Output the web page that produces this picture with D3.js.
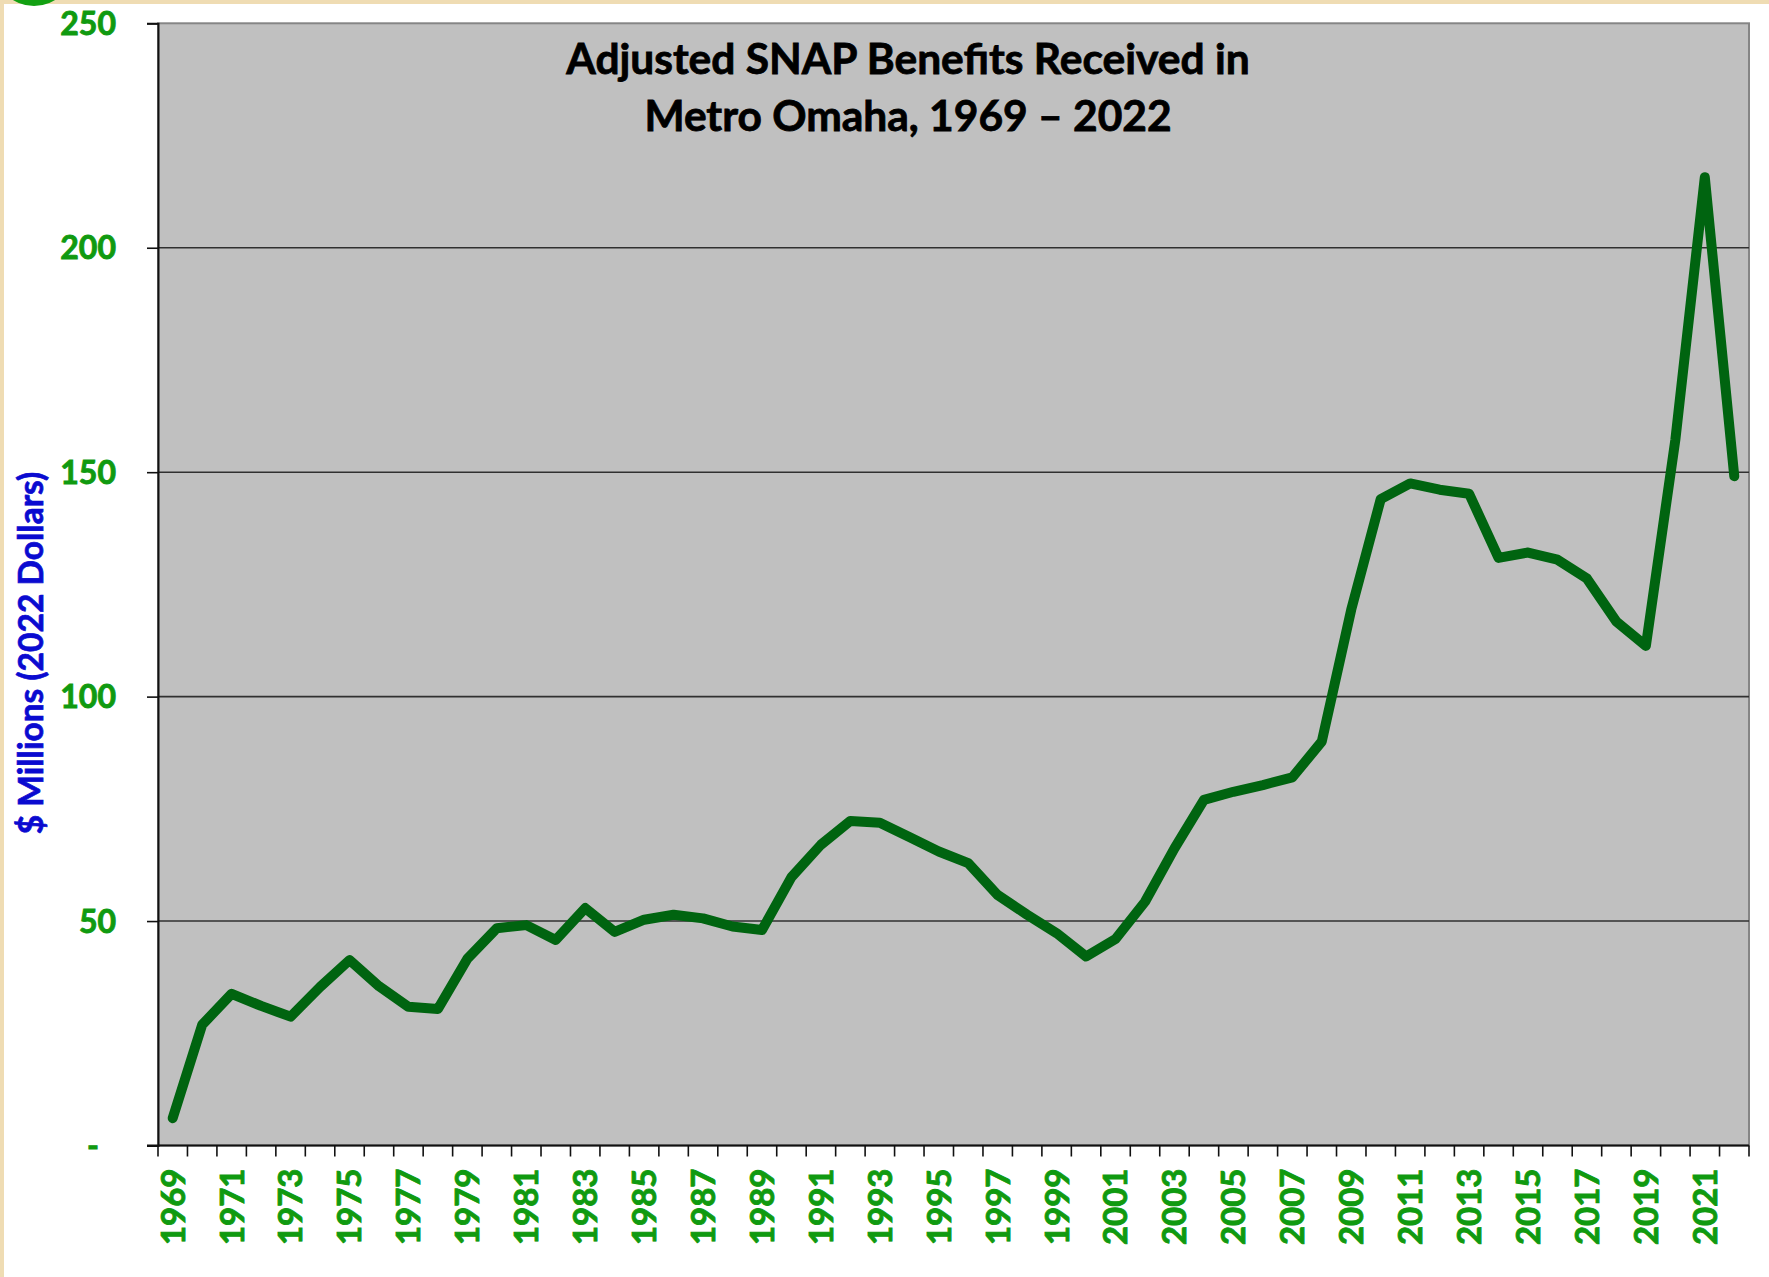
<!DOCTYPE html>
<html>
<head>
<meta charset="utf-8">
<script src="https://cdn.jsdelivr.net/npm/d3@7"></script>
<style>
  html, body { margin: 0; padding: 0; background: #ffffff; }
  svg { display: block; }
</style>
</head>
<body>
<script>
// ---- Data ----
const years = d3.range(1969, 2023);
const values = [
  6.1, 26.9, 33.8, 31.1, 28.7, 35.3, 41.3, 35.5, 30.9, 30.4,
  41.6, 48.4, 49.1, 45.8, 52.9, 47.6, 50.3, 51.4, 50.6, 48.8,
  48.0, 59.8, 67.0, 72.3, 71.9, 68.7, 65.5, 62.9, 55.8, 51.4,
  47.3, 42.1, 46.0, 54.3, 66.2, 77.0, 78.8, 80.3, 82.0, 90.0,
  119.4, 144.0, 147.5, 146.1, 145.2, 130.9, 132.1, 130.5, 126.3, 116.7,
  111.3, 157.2, 215.7, 149.1
];
const yTicks = [0, 50, 100, 150, 200, 250];
const yTickLabels = ["-", "50", "100", "150", "200", "250"];
const titleLines = ["Adjusted SNAP Benefits Received in", "Metro Omaha, 1969 \u2013 2022"];
const yAxisTitle = "$ Millions (2022 Dollars)";

// ---- Layout ----
const W = 1769, H = 1277;
const plot = { left: 158, right: 1749, top: 23.3, bottom: 1145.5 };
const green = "#109a10";
const font = "Lato, 'Open Sans', sans-serif";

const svg = d3.select("body").append("svg").attr("width", W).attr("height", H);

// page decoration
svg.append("rect").attr("width", W).attr("height", H).attr("fill", "#ffffff");
svg.append("rect").attr("x", 0).attr("y", 0).attr("width", W).attr("height", 4).attr("fill", "#efdcb3");
svg.append("rect").attr("x", 0).attr("y", 0).attr("width", 4).attr("height", H).attr("fill", "#efdcb3");
svg.append("circle").attr("cx", 34).attr("cy", -34).attr("r", 40).attr("fill", "#12a012");

const x = d3.scaleBand().domain(years).range([plot.left, plot.right]).padding(0);
const y = d3.scaleLinear().domain([0, 250]).range([plot.bottom, plot.top]);

// plot area
svg.append("rect")
  .attr("x", plot.left).attr("y", plot.top)
  .attr("width", plot.right - plot.left).attr("height", plot.bottom - plot.top)
  .attr("fill", "#c0c0c0").attr("stroke", "#858585").attr("stroke-width", 2);

// gridlines
svg.append("g").selectAll("line").data(yTicks.filter(t => t > 0 && t < 250)).join("line")
  .attr("x1", plot.left).attr("x2", plot.right)
  .attr("y1", d => y(d)).attr("y2", d => y(d))
  .attr("stroke", "#303030").attr("stroke-width", 1.6);

// Y axis
const yAxis = d3.axisLeft(y).tickValues(yTicks).tickSize(11).tickPadding(0)
  .tickFormat((d, i) => yTickLabels[i]);
const gy = svg.append("g").attr("transform", `translate(${plot.left},0)`).call(yAxis);
gy.select(".domain").attr("stroke", "#111").attr("stroke-width", 2);
gy.selectAll(".tick line").attr("stroke", "#111").attr("stroke-width", 1.6);
gy.selectAll(".tick text")
  .attr("x", (d) => d === 0 ? -59 : -42)
  .attr("dy", "0.35em")
  .attr("fill", green).attr("stroke", green).attr("stroke-width", 0.9)
  .attr("font-family", font).attr("font-weight", 700).attr("font-size", 32);

// X axis: ticks at band boundaries
const boundaries = years.map(yr => x(yr)).concat([plot.right]);
svg.append("line").attr("x1", plot.left - 11).attr("x2", plot.right)
  .attr("y1", plot.bottom).attr("y2", plot.bottom)
  .attr("stroke", "#111").attr("stroke-width", 2);
svg.append("g").selectAll("line").data(boundaries).join("line")
  .attr("x1", d => d).attr("x2", d => d)
  .attr("y1", plot.bottom).attr("y2", plot.bottom + 11)
  .attr("stroke", "#111").attr("stroke-width", 1.6);

svg.append("g").selectAll("text").data(years.filter((yr, i) => i % 2 === 0)).join("text")
  .attr("transform", d => `translate(${x(d) + x.bandwidth() / 2},${plot.bottom + 23}) rotate(-90)`)
  .attr("text-anchor", "end")
  .attr("dy", "0.36em")
  .attr("fill", green).attr("stroke", green).attr("stroke-width", 0.9)
  .attr("font-family", font).attr("font-weight", 700).attr("font-size", 33)
  .text(d => d);

// Y axis title
svg.append("text")
  .attr("transform", `translate(31,653) rotate(-90)`)
  .attr("text-anchor", "middle").attr("dy", "0.35em")
  .attr("fill", "#0a0ad0").attr("stroke", "#0a0ad0").attr("stroke-width", 0.7)
  .attr("font-family", font).attr("font-weight", 700).attr("font-size", 33.5)
  .text(yAxisTitle);

// Title
svg.append("g").selectAll("text").data(titleLines).join("text")
  .attr("x", 908).attr("y", (d, i) => 74 + i * 57)
  .attr("text-anchor", "middle")
  .attr("fill", "#000").attr("stroke", "#000").attr("stroke-width", 0.8)
  .attr("font-family", font).attr("font-weight", 700).attr("font-size", 42.5)
  .text(d => d);

// Line
const line = d3.line()
  .x((d, i) => x(years[i]) + x.bandwidth() / 2)
  .y(d => y(d));
svg.append("path").datum(values)
  .attr("d", line)
  .attr("fill", "none").attr("stroke", "#006410").attr("stroke-width", 10)
  .attr("stroke-linecap", "round").attr("stroke-linejoin", "round");
</script>
</body>
</html>
